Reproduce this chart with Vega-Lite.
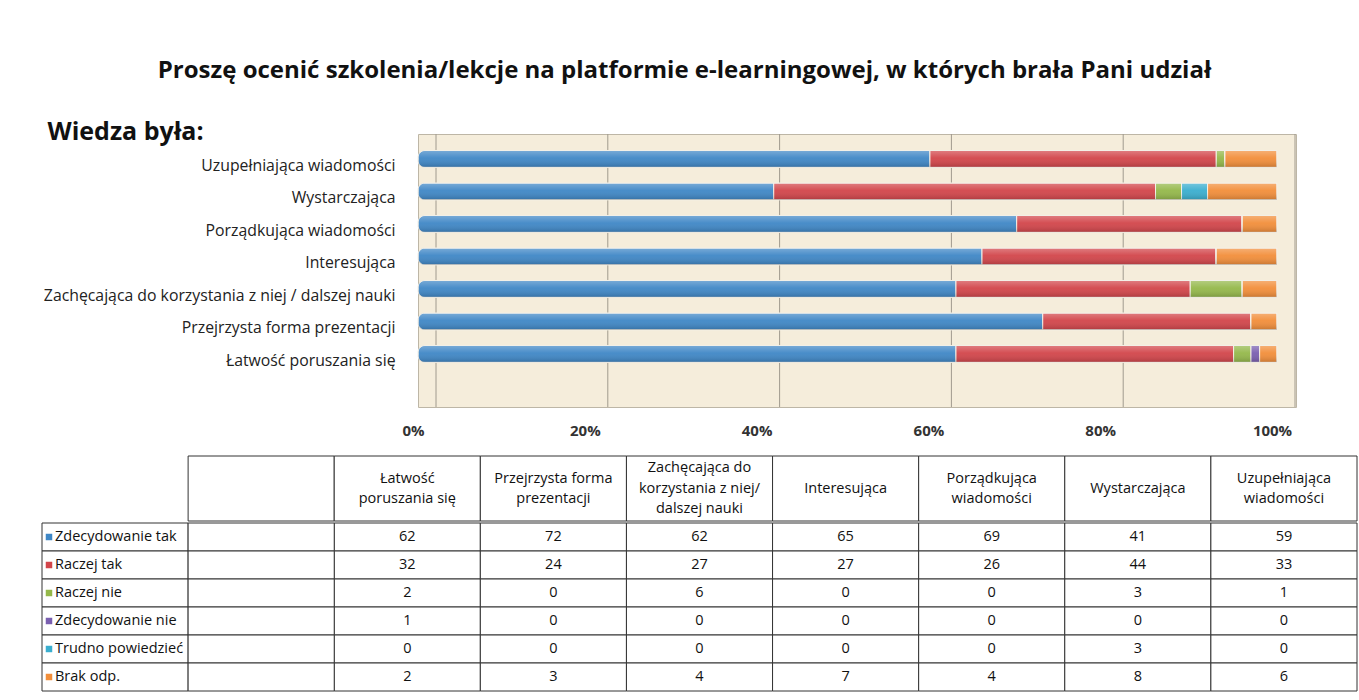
{
  "$schema": "https://vega.github.io/schema/vega-lite/v6.json",
  "background": "white",
  "padding": {"left": 41, "top": 58, "right": 2, "bottom": 2},
  "title": {"text": "Proszę ocenić szkolenia/lekcje na platformie e-learningowej, w których brała Pani udział", "font": "Open Sans", "fontSize": 24, "fontWeight": "bold", "color": "#111111", "anchor": "middle", "dx": -15, "offset": 36},
  "config": {"font": "Open Sans", "view": {"stroke": null}},
  "datasets": {
    "dane": [
      {"kategoria": "Łatwość poruszania się", "odp": "Zdecydowanie tak", "k": 1, "n": 62},
      {"kategoria": "Łatwość poruszania się", "odp": "Raczej tak", "k": 2, "n": 32},
      {"kategoria": "Łatwość poruszania się", "odp": "Raczej nie", "k": 3, "n": 2},
      {"kategoria": "Łatwość poruszania się", "odp": "Zdecydowanie nie", "k": 4, "n": 1},
      {"kategoria": "Łatwość poruszania się", "odp": "Trudno powiedzieć", "k": 5, "n": 0},
      {"kategoria": "Łatwość poruszania się", "odp": "Brak odp.", "k": 6, "n": 2},
      {"kategoria": "Przejrzysta forma prezentacji", "odp": "Zdecydowanie tak", "k": 1, "n": 72},
      {"kategoria": "Przejrzysta forma prezentacji", "odp": "Raczej tak", "k": 2, "n": 24},
      {"kategoria": "Przejrzysta forma prezentacji", "odp": "Raczej nie", "k": 3, "n": 0},
      {"kategoria": "Przejrzysta forma prezentacji", "odp": "Zdecydowanie nie", "k": 4, "n": 0},
      {"kategoria": "Przejrzysta forma prezentacji", "odp": "Trudno powiedzieć", "k": 5, "n": 0},
      {"kategoria": "Przejrzysta forma prezentacji", "odp": "Brak odp.", "k": 6, "n": 3},
      {"kategoria": "Zachęcająca do korzystania z niej / dalszej nauki", "odp": "Zdecydowanie tak", "k": 1, "n": 62},
      {"kategoria": "Zachęcająca do korzystania z niej / dalszej nauki", "odp": "Raczej tak", "k": 2, "n": 27},
      {"kategoria": "Zachęcająca do korzystania z niej / dalszej nauki", "odp": "Raczej nie", "k": 3, "n": 6},
      {"kategoria": "Zachęcająca do korzystania z niej / dalszej nauki", "odp": "Zdecydowanie nie", "k": 4, "n": 0},
      {"kategoria": "Zachęcająca do korzystania z niej / dalszej nauki", "odp": "Trudno powiedzieć", "k": 5, "n": 0},
      {"kategoria": "Zachęcająca do korzystania z niej / dalszej nauki", "odp": "Brak odp.", "k": 6, "n": 4},
      {"kategoria": "Interesująca", "odp": "Zdecydowanie tak", "k": 1, "n": 65},
      {"kategoria": "Interesująca", "odp": "Raczej tak", "k": 2, "n": 27},
      {"kategoria": "Interesująca", "odp": "Raczej nie", "k": 3, "n": 0},
      {"kategoria": "Interesująca", "odp": "Zdecydowanie nie", "k": 4, "n": 0},
      {"kategoria": "Interesująca", "odp": "Trudno powiedzieć", "k": 5, "n": 0},
      {"kategoria": "Interesująca", "odp": "Brak odp.", "k": 6, "n": 7},
      {"kategoria": "Porządkująca wiadomości", "odp": "Zdecydowanie tak", "k": 1, "n": 69},
      {"kategoria": "Porządkująca wiadomości", "odp": "Raczej tak", "k": 2, "n": 26},
      {"kategoria": "Porządkująca wiadomości", "odp": "Raczej nie", "k": 3, "n": 0},
      {"kategoria": "Porządkująca wiadomości", "odp": "Zdecydowanie nie", "k": 4, "n": 0},
      {"kategoria": "Porządkująca wiadomości", "odp": "Trudno powiedzieć", "k": 5, "n": 0},
      {"kategoria": "Porządkująca wiadomości", "odp": "Brak odp.", "k": 6, "n": 4},
      {"kategoria": "Wystarczająca", "odp": "Zdecydowanie tak", "k": 1, "n": 41},
      {"kategoria": "Wystarczająca", "odp": "Raczej tak", "k": 2, "n": 44},
      {"kategoria": "Wystarczająca", "odp": "Raczej nie", "k": 3, "n": 3},
      {"kategoria": "Wystarczająca", "odp": "Zdecydowanie nie", "k": 4, "n": 0},
      {"kategoria": "Wystarczająca", "odp": "Trudno powiedzieć", "k": 5, "n": 3},
      {"kategoria": "Wystarczająca", "odp": "Brak odp.", "k": 6, "n": 8},
      {"kategoria": "Uzupełniająca wiadomości", "odp": "Zdecydowanie tak", "k": 1, "n": 59},
      {"kategoria": "Uzupełniająca wiadomości", "odp": "Raczej tak", "k": 2, "n": 33},
      {"kategoria": "Uzupełniająca wiadomości", "odp": "Raczej nie", "k": 3, "n": 1},
      {"kategoria": "Uzupełniająca wiadomości", "odp": "Zdecydowanie nie", "k": 4, "n": 0},
      {"kategoria": "Uzupełniająca wiadomości", "odp": "Trudno powiedzieć", "k": 5, "n": 0},
      {"kategoria": "Uzupełniająca wiadomości", "odp": "Brak odp.", "k": 6, "n": 6}
    ],
    "siatka": [{"v": 0}, {"v": 0.2}, {"v": 0.4}, {"v": 0.6}, {"v": 0.8}, {"v": 1}],
    "odpowiedzi": [
      {"odp": "Zdecydowanie tak"}, {"odp": "Raczej tak"}, {"odp": "Raczej nie"},
      {"odp": "Zdecydowanie nie"}, {"odp": "Trudno powiedzieć"}, {"odp": "Brak odp."}
    ],
    "naglowki": [
      {"col": "B", "label": ""},
      {"col": "Łatwość poruszania się", "label": "Łatwość\nporuszania się"},
      {"col": "Przejrzysta forma prezentacji", "label": "Przejrzysta forma\nprezentacji"},
      {"col": "Zachęcająca do korzystania z niej / dalszej nauki", "label": "Zachęcająca do\nkorzystania z niej/\ndalszej nauki"},
      {"col": "Interesująca", "label": "Interesująca"},
      {"col": "Porządkująca wiadomości", "label": "Porządkująca\nwiadomości"},
      {"col": "Wystarczająca", "label": "Wystarczająca"},
      {"col": "Uzupełniająca wiadomości", "label": "Uzupełniająca\nwiadomości"}
    ]
  },
  "spacing": 16,
  "vconcat": [
    {
      "width": 878,
      "height": 273,
      "view": {"fill": "#f5eddb", "stroke": "#bdb6a6"},
      "layer": [
        {
          "data": {"name": "siatka"},
          "mark": {"type": "rule", "color": "#a09a8e", "strokeWidth": 1, "xOffset": 18},
          "encoding": {
            "x": {"field": "v", "type": "quantitative", "title": null, "scale": {"domain": [0, 1], "range": [0, 859], "nice": false}}
          }
        },
        {
          "data": {"name": "dane"},
          "mark": {"type": "bar", "stroke": "#f3efe6", "strokeWidth": 1, "cornerRadiusTopLeft": 7, "cornerRadiusBottomLeft": 7},
          "encoding": {
            "x": {"aggregate": "sum", "field": "n", "type": "quantitative", "stack": "normalize", "title": null,
                  "scale": {"domain": [0, 1], "range": [0, 859], "nice": false},
                  "axis": {"values": [0, 0.2, 0.4, 0.6, 0.8, 1], "format": ".0%", "labelFontSize": 15, "labelFontWeight": "bold", "labelColor": "#333333", "labelPadding": 16, "labelOffset": -5, "labelFlush": false, "domain": false, "ticks": false, "grid": false}},
            "y": {"field": "kategoria", "type": "nominal",
                  "sort": ["Uzupełniająca wiadomości", "Wystarczająca", "Porządkująca wiadomości", "Interesująca", "Zachęcająca do korzystania z niej / dalszej nauki", "Przejrzysta forma prezentacji", "Łatwość poruszania się"],
                  "scale": {"paddingInner": 0.48, "paddingOuter": 0.94, "align": 0.27},
                  "axis": {"title": "Wiedza była:", "titleAngle": 0, "titleAlign": "left", "titleBaseline": "alphabetic", "titleX": -371, "titleY": 5, "titleFontSize": 25, "titleFontWeight": "bold", "titleColor": "#111111", "labelFontSize": 15.8, "labelColor": "#222222", "labelPadding": 23, "labelLimit": 450, "labelOffset": 7, "domain": false, "ticks": false, "grid": false}},
            "color": {"field": "odp", "type": "nominal", "legend": null,
                      "scale": {"domain": ["Zdecydowanie tak", "Raczej tak", "Raczej nie", "Zdecydowanie nie", "Trudno powiedzieć", "Brak odp."],
                                "range": ["#3f87c6", "#d2454a", "#94b84a", "#7a5fb0", "#3aaecf", "#f28e3a"]}},
            "order": {"field": "k", "type": "quantitative"}
          }
        },
        {
          "data": {"name": "dane"},
          "mark": {"type": "bar", "cornerRadiusTopLeft": 7, "cornerRadiusBottomLeft": 7,
                   "fill": {"gradient": "linear", "x1": 0, "y1": 0, "x2": 0, "y2": 1,
                            "stops": [{"offset": 0, "color": "rgba(255,255,255,0.30)"}, {"offset": 0.45, "color": "rgba(255,255,255,0.05)"}, {"offset": 1, "color": "rgba(0,0,0,0.18)"}]}},
          "encoding": {
            "x": {"aggregate": "sum", "field": "n", "type": "quantitative", "stack": "normalize", "title": null},
            "y": {"field": "kategoria", "type": "nominal",
                  "sort": ["Uzupełniająca wiadomości", "Wystarczająca", "Porządkująca wiadomości", "Interesująca", "Zachęcająca do korzystania z niej / dalszej nauki", "Przejrzysta forma prezentacji", "Łatwość poruszania się"]},
            "detail": {"field": "odp", "type": "nominal"},
            "order": {"field": "k", "type": "quantitative"}
          }
        }
      ]
    },
    {
      "spacing": 0,
      "vconcat": [
        {
          "width": 939,
          "height": 65,
          "data": {"name": "naglowki"},
          "encoding": {
            "x": {"field": "col", "type": "nominal", "axis": null,
                  "scale": {"domain": ["L", "B", "Łatwość poruszania się", "Przejrzysta forma prezentacji", "Zachęcająca do korzystania z niej / dalszej nauki", "Interesująca", "Porządkująca wiadomości", "Wystarczająca", "Uzupełniająca wiadomości"], "range": [-376, 939], "paddingInner": 0, "paddingOuter": 0}}
          },
          "layer": [
            {
              "mark": {"type": "rect", "fill": "white", "stroke": "#333333", "strokeWidth": 1}
            },
            {
              "transform": [{"filter": "length(split(datum.label, '\\n')) == 1"}],
              "mark": {"type": "text", "fontSize": 14.5, "lineBreak": "\n", "lineHeight": 20.5, "color": "#111111", "baseline": "middle", "dy": 0},
              "encoding": {"text": {"field": "label", "type": "nominal"}}
            },
            {
              "transform": [{"filter": "length(split(datum.label, '\\n')) == 2"}],
              "mark": {"type": "text", "fontSize": 14.5, "lineBreak": "\n", "lineHeight": 20.5, "color": "#111111", "baseline": "middle", "dy": -10},
              "encoding": {"text": {"field": "label", "type": "nominal"}}
            },
            {
              "transform": [{"filter": "length(split(datum.label, '\\n')) == 3"}],
              "mark": {"type": "text", "fontSize": 14.5, "lineBreak": "\n", "lineHeight": 20.5, "color": "#111111", "baseline": "middle", "dy": -20.5},
              "encoding": {"text": {"field": "label", "type": "nominal"}}
            }
          ]
        },
        {
          "width": 939,
          "height": 168,
          "encoding": {
            "x": {"field": "kategoria", "type": "nominal", "axis": null,
                  "scale": {"domain": ["L", "B", "Łatwość poruszania się", "Przejrzysta forma prezentacji", "Zachęcająca do korzystania z niej / dalszej nauki", "Interesująca", "Porządkująca wiadomości", "Wystarczająca", "Uzupełniająca wiadomości"], "range": [-376, 939], "paddingInner": 0, "paddingOuter": 0}},
            "y": {"field": "odp", "type": "nominal", "axis": null,
                  "scale": {"domain": ["Zdecydowanie tak", "Raczej tak", "Raczej nie", "Zdecydowanie nie", "Trudno powiedzieć", "Brak odp."], "paddingInner": 0, "paddingOuter": 0}}
          },
          "layer": [
            {
              "data": {"name": "dane"},
              "mark": {"type": "rect", "fill": "white", "stroke": "#333333", "strokeWidth": 1}
            },
            {
              "data": {"name": "odpowiedzi"},
              "mark": {"type": "rect", "fill": "white", "stroke": "#333333", "strokeWidth": 1},
              "encoding": {"x": {"datum": "L", "type": "nominal"}}
            },
            {
              "data": {"name": "odpowiedzi"},
              "mark": {"type": "rect", "fill": "white", "stroke": "#333333", "strokeWidth": 1},
              "encoding": {"x": {"datum": "B", "type": "nominal"}}
            },
            {
              "data": {"name": "dane"},
              "mark": {"type": "text", "fontSize": 14.5, "color": "#111111"},
              "encoding": {"text": {"field": "n", "type": "quantitative"}}
            },
            {
              "data": {"name": "odpowiedzi"},
              "mark": {"type": "square", "size": 42, "filled": true, "opacity": 1, "xOffset": 7},
              "encoding": {
                "x": {"datum": "L", "type": "nominal", "bandPosition": 0},
                "color": {"field": "odp", "type": "nominal", "legend": null,
                          "scale": {"domain": ["Zdecydowanie tak", "Raczej tak", "Raczej nie", "Zdecydowanie nie", "Trudno powiedzieć", "Brak odp."],
                                    "range": ["#3f87c6", "#d2454a", "#94b84a", "#7a5fb0", "#3aaecf", "#f28e3a"]}}
              }
            },
            {
              "data": {"name": "odpowiedzi"},
              "mark": {"type": "text", "fontSize": 14.5, "align": "left", "dx": 13, "color": "#111111"},
              "encoding": {
                "x": {"datum": "L", "type": "nominal", "bandPosition": 0},
                "text": {"field": "odp", "type": "nominal"}
              }
            }
          ]
        }
      ]
    }
  ]
}
